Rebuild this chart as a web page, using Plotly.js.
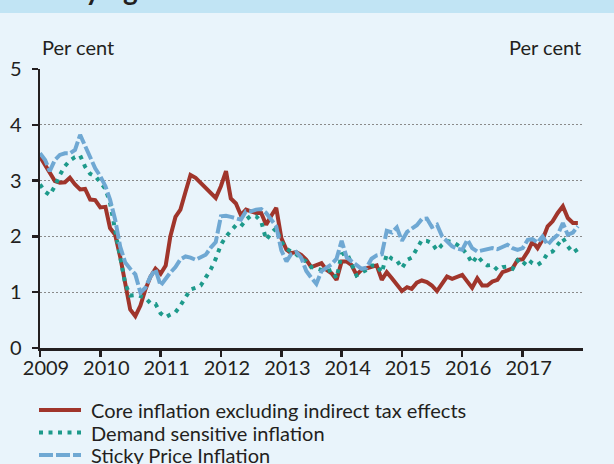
<!DOCTYPE html>
<html><head><meta charset="utf-8">
<script src="https://cdn.plot.ly/plotly-3.0.1.min.js"></script>
<style>html,body{margin:0;padding:0;background:#e9f4fb;overflow:hidden;}#chart{width:614px;height:464px;}</style>
</head><body><div id="chart"></div>
<script>
// Monthly series, Jan 2009 - Dec 2017 (per cent)
const startYear = 2009;
const yearTickLabels = ['2009','2010','2011','2012','2013','2014','2015','2016','2017'];
const seriesNames = ['Core inflation excluding indirect tax effects','Demand sensitive inflation','Sticky Price Inflation'];

const coreInflation = [
 3.43,3.28,3.11,2.99,2.96,2.97,3.05,2.93,2.84,2.85,2.66,2.65,
 2.52,2.53,2.15,2.03,1.64,1.11,0.69,0.57,0.76,1.05,1.28,1.42,
 1.33,1.48,2.00,2.35,2.48,2.80,3.10,3.05,2.96,2.85,2.78,2.69,
 2.90,3.17,2.68,2.59,2.38,2.48,2.45,2.42,2.42,2.21,2.37,2.51,
 1.97,1.76,1.70,1.72,1.67,1.58,1.45,1.49,1.52,1.40,1.34,1.22,
 1.55,1.55,1.49,1.31,1.40,1.43,1.45,1.48,1.22,1.36,1.25,1.14,
 1.02,1.09,1.06,1.17,1.21,1.18,1.12,1.02,1.14,1.28,1.24,1.27,
 1.31,1.19,1.08,1.25,1.12,1.12,1.19,1.22,1.36,1.39,1.43,1.58,
 1.59,1.73,1.91,1.79,1.94,2.18,2.27,2.42,2.54,2.33,2.24,2.24
];
const demandSensitive = [
 2.93,2.80,2.74,2.90,3.10,3.26,3.36,3.42,3.45,3.25,3.12,3.08,
 2.97,2.85,2.60,2.10,1.65,1.15,0.94,0.95,0.93,0.90,0.80,0.79,
 0.62,0.55,0.60,0.64,0.76,0.92,1.05,1.08,1.12,1.26,1.41,1.60,
 1.85,2.00,2.10,2.20,2.18,2.30,2.37,2.36,2.27,1.94,2.06,2.15,
 1.90,1.78,1.73,1.68,1.60,1.55,1.45,1.43,1.40,1.37,1.40,1.25,
 1.68,1.71,1.50,1.30,1.35,1.40,1.48,1.48,1.35,1.68,1.60,1.57,
 1.43,1.58,1.62,1.78,1.93,1.92,1.88,1.75,1.85,1.92,1.90,1.85,
 1.78,1.67,1.52,1.65,1.55,1.48,1.49,1.40,1.45,1.46,1.42,1.57,
 1.48,1.59,1.52,1.49,1.55,1.70,1.73,1.85,1.97,1.82,1.71,1.77
];
const stickyPrice = [
 3.49,3.37,3.17,3.37,3.46,3.49,3.49,3.55,3.82,3.62,3.40,3.22,
 3.08,2.90,2.66,2.30,1.82,1.53,1.42,1.32,0.99,1.08,1.28,1.41,
 1.12,1.25,1.35,1.45,1.59,1.64,1.62,1.58,1.62,1.67,1.80,1.90,
 2.36,2.37,2.35,2.33,2.30,2.45,2.45,2.48,2.49,2.42,2.30,2.18,
 1.75,1.55,1.68,1.72,1.62,1.38,1.26,1.15,1.38,1.45,1.50,1.60,
 1.92,1.62,1.56,1.48,1.42,1.44,1.60,1.66,1.68,2.10,2.07,2.16,
 1.92,2.08,2.13,2.20,2.31,2.32,2.17,2.21,2.00,1.91,1.82,1.78,
 1.76,1.94,1.79,1.73,1.75,1.76,1.79,1.77,1.82,1.85,1.79,1.76,
 1.79,1.94,1.95,1.89,2.00,1.85,1.95,2.03,2.24,2.03,2.07,2.18
];

const months = coreInflation.map((_, i) => {
  const y = startYear + Math.floor(i / 12);
  const m = (i % 12) + 1;
  return y + '-' + String(m).padStart(2, '0') + '-01';
});
const yearTickVals = yearTickLabels.map(y => y + '-01-01');

const ink = '#231f20';
const font = 'Lato, "Open Sans", sans-serif';
const lineStyles = [
  {color: '#a0352b', width: 4},
  {color: '#1d9a8b', width: 4, dash: '4px,5.5px'},
  {color: '#6fa8d3', width: 4, dash: '14px,3px'}
];
const seriesValues = [coreInflation, demandSensitive, stickyPrice];

const traces = seriesValues.map((vals, i) => ({
  x: months, y: vals, name: seriesNames[i], type: 'scatter', mode: 'lines',
  line: lineStyles[i], hoverinfo: 'skip', showlegend: false
}));

// plot area: x 40..583, y 69..348 (px)
const W = 543, H = 279;
const px2x = p => (p - 40) / W;
const px2y = p => (348 - p) / H;

// custom legend (sample line + label) placed below the chart
const legendRowsPx = [410, 432.5, 455];
const legendShapes = seriesNames.map((n, i) => ({
  type: 'line', xref: 'paper', yref: 'paper', x0: px2x(39), x1: px2x(81),
  y0: px2y(legendRowsPx[i]), y1: px2y(legendRowsPx[i]), line: lineStyles[i]
}));
const legendLabels = seriesNames.map((n, i) => ({
  text: n, xref: 'paper', yref: 'paper', x: px2x(89), xanchor: 'left',
  y: px2y(legendRowsPx[i]), yanchor: 'middle', showarrow: false,
  font: {family: font, size: 20, color: ink}
}));

const layout = {
  width: 614, height: 464,
  margin: {l: 40, r: 31, t: 69, b: 116, pad: 0},
  paper_bgcolor: '#e9f4fb', plot_bgcolor: '#e9f4fb',
  font: {family: font, size: 20, color: ink},
  showlegend: false,
  xaxis: {type: 'date', range: ['2009-01-01', '2018-01-01'], tickmode: 'array',
          tickvals: yearTickVals, ticktext: yearTickLabels, ticks: 'outside', ticklen: 6,
          tickwidth: 2.5, tickcolor: ink, showline: true, linecolor: ink, linewidth: 2.5,
          showgrid: false, zeroline: false, ticklabelshift: 6, ticklabelstandoff: -6,
          tickfont: {family: font, size: 20, color: ink}, fixedrange: true},
  yaxis: {range: [0, 5], tickvals: [0,1,2,3,4,5], ticks: 'outside', ticklen: 6, tickwidth: 2.5,
          tickcolor: ink, showline: true, linecolor: ink, linewidth: 2.5, zeroline: false,
          showgrid: true, gridcolor: '#8a8a8a', gridwidth: 1.3, griddash: '1.5px,2.5px',
          ticklabelstandoff: 6, tickfont: {family: font, size: 20, color: ink}, fixedrange: true},
  yaxis2: {range: [0, 5], tickvals: [0,1,2,3,4,5], overlaying: 'y', side: 'right', anchor: 'x',
           ticks: 'outside', ticklen: 6, tickwidth: 2.5, tickcolor: ink, showline: true,
           linecolor: ink, linewidth: 2.5, zeroline: false, showgrid: false,
           ticklabelstandoff: 14, tickfont: {family: font, size: 20, color: ink}, fixedrange: true},
  shapes: [
    {type: 'rect', xref: 'paper', yref: 'paper', x0: -0.1, x1: 1.1,
     y0: px2y(13), y1: px2y(-20), fillcolor: '#c1e4f4', line: {width: 0}, layer: 'below'}
  ].concat(legendShapes),
  annotations: [
    {text: '<b>Underlying inflation</b>', xref: 'paper', yref: 'paper', x: px2x(-1),
     xanchor: 'left', y: px2y(8), yanchor: 'bottom', showarrow: false,
     font: {family: font, size: 28, color: ink}},
    {text: 'Per cent', xref: 'paper', yref: 'paper', x: 0, xanchor: 'left',
     y: px2y(47), yanchor: 'middle', showarrow: false, font: {family: font, size: 20, color: ink}},
    {text: 'Per cent', xref: 'paper', yref: 'paper', x: 1, xanchor: 'right',
     y: px2y(47), yanchor: 'middle', showarrow: false, font: {family: font, size: 20, color: ink}}
  ].concat(legendLabels)
};

Plotly.newPlot('chart', traces, layout, {staticPlot: true, displayModeBar: false});
</script></body></html>
